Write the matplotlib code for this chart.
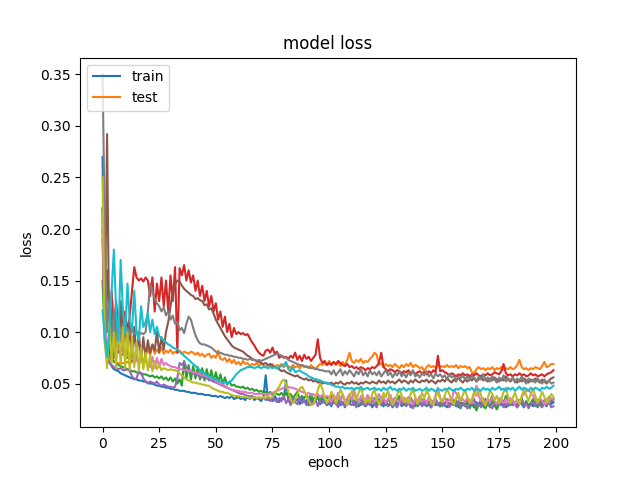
import matplotlib
matplotlib.use('Agg')
import matplotlib.pyplot as plt

# loss curves, one value per epoch (200 epochs)
train = [
    0.27, 0.11, 0.077, 0.071, 0.067, 0.064, 0.063, 0.062, 0.060, 0.059,
    0.058, 0.057, 0.056, 0.055, 0.055, 0.054, 0.053, 0.053, 0.052, 0.052,
    0.051, 0.050, 0.050, 0.049, 0.048, 0.048, 0.047, 0.047, 0.046, 0.046,
    0.045, 0.045, 0.044, 0.044, 0.043, 0.043, 0.043, 0.042, 0.042, 0.041,
    0.041, 0.041, 0.040, 0.040, 0.040, 0.039, 0.039, 0.039, 0.038, 0.038,
    0.038, 0.037, 0.038, 0.037, 0.036, 0.037, 0.036, 0.038, 0.035, 0.036,
    0.037, 0.035, 0.036, 0.034, 0.037, 0.035, 0.038, 0.034, 0.036, 0.035,
    0.033, 0.037, 0.058, 0.034, 0.036, 0.033, 0.038, 0.034, 0.032, 0.036,
    0.035, 0.053, 0.034, 0.031, 0.037, 0.033, 0.035, 0.030, 0.036, 0.032,
    0.034, 0.029, 0.036, 0.031, 0.033, 0.038, 0.030, 0.035, 0.032, 0.029,
    0.031, 0.028, 0.033, 0.030, 0.035, 0.029, 0.032, 0.027, 0.034, 0.030,
    0.037, 0.029, 0.032, 0.028, 0.031, 0.034, 0.028, 0.030, 0.033, 0.027,
    0.032, 0.029, 0.035, 0.030, 0.028, 0.033, 0.029, 0.031, 0.027, 0.032,
    0.030, 0.034, 0.028, 0.031, 0.029, 0.033, 0.027, 0.030, 0.032, 0.028,
    0.031, 0.029, 0.034, 0.028, 0.030, 0.027, 0.033, 0.029, 0.031, 0.028,
    0.032, 0.029, 0.027, 0.031, 0.030, 0.034, 0.028, 0.030, 0.026, 0.031,
    0.029, 0.033, 0.028, 0.030, 0.027, 0.032, 0.029, 0.031, 0.028, 0.035,
    0.030, 0.033, 0.038, 0.031, 0.028, 0.032, 0.029, 0.031, 0.027, 0.030,
    0.033, 0.029, 0.031, 0.028, 0.034, 0.030, 0.027, 0.032, 0.029, 0.031,
    0.028, 0.033, 0.030, 0.036, 0.029, 0.031, 0.028, 0.033, 0.030, 0.032,
]

test = [
    0.22, 0.10, 0.080, 0.075, 0.073, 0.071, 0.070, 0.070, 0.069, 0.070,
    0.070, 0.071, 0.069, 0.072, 0.070, 0.073, 0.071, 0.075, 0.072, 0.078,
    0.085, 0.077, 0.088, 0.079, 0.083, 0.080, 0.085, 0.079, 0.082, 0.080,
    0.083, 0.079, 0.081, 0.080, 0.082, 0.079, 0.081, 0.080, 0.079, 0.081,
    0.080, 0.078, 0.080, 0.077, 0.079, 0.076, 0.078, 0.079, 0.075, 0.077,
    0.075, 0.082, 0.074, 0.073, 0.075, 0.071, 0.074, 0.070, 0.073, 0.069,
    0.071, 0.068, 0.072, 0.069, 0.070, 0.067, 0.069, 0.068, 0.070, 0.067,
    0.069, 0.068, 0.066, 0.068, 0.067, 0.069, 0.066, 0.068, 0.067, 0.069,
    0.066, 0.068, 0.067, 0.065, 0.068, 0.066, 0.067, 0.065, 0.068, 0.066,
    0.067, 0.065, 0.068, 0.066, 0.064, 0.067, 0.069, 0.068, 0.070, 0.068,
    0.072, 0.069, 0.071, 0.068, 0.070, 0.067, 0.071, 0.068, 0.073, 0.080,
    0.072, 0.070, 0.073, 0.071, 0.074, 0.070, 0.072, 0.071, 0.074, 0.076,
    0.080, 0.078, 0.068, 0.070, 0.066, 0.069, 0.067, 0.068, 0.066, 0.069,
    0.067, 0.065, 0.068, 0.066, 0.069, 0.067, 0.070, 0.066, 0.068, 0.067,
    0.065, 0.066, 0.062, 0.066, 0.068, 0.066, 0.067, 0.065, 0.068, 0.066,
    0.067, 0.066, 0.068, 0.066, 0.067, 0.066, 0.068, 0.065, 0.067, 0.066,
    0.067, 0.065, 0.066, 0.061, 0.060, 0.064, 0.066, 0.064, 0.065, 0.063,
    0.065, 0.064, 0.066, 0.063, 0.065, 0.064, 0.066, 0.063, 0.065, 0.064,
    0.066, 0.064, 0.065, 0.068, 0.073, 0.066, 0.064, 0.065, 0.063, 0.065,
    0.064, 0.066, 0.065, 0.064, 0.067, 0.071, 0.066, 0.067, 0.069, 0.069,
]

run3 = [
    0.15, 0.095, 0.082, 0.078, 0.074, 0.072, 0.070, 0.068, 0.067, 0.066,
    0.065, 0.064, 0.063, 0.062, 0.062, 0.061, 0.060, 0.060, 0.059, 0.059,
    0.058, 0.057, 0.058, 0.056, 0.057, 0.055, 0.057, 0.054, 0.056, 0.053,
    0.056, 0.052, 0.055, 0.050, 0.054, 0.048, 0.072, 0.055, 0.068, 0.054,
    0.067, 0.055, 0.066, 0.054, 0.065, 0.053, 0.064, 0.053, 0.063, 0.052,
    0.061, 0.051, 0.059, 0.050, 0.056, 0.049, 0.052, 0.048, 0.049, 0.047,
    0.047, 0.046, 0.047, 0.045, 0.046, 0.044, 0.045, 0.043, 0.044, 0.042,
    0.043, 0.041, 0.042, 0.040, 0.042, 0.039, 0.041, 0.040, 0.039, 0.041,
    0.038, 0.041, 0.037, 0.040, 0.036, 0.039, 0.042, 0.035, 0.038, 0.036,
    0.039, 0.035, 0.040, 0.034, 0.037, 0.036, 0.033, 0.038, 0.035, 0.037,
    0.034, 0.038, 0.032, 0.036, 0.030, 0.035, 0.039, 0.033, 0.031, 0.036,
    0.034, 0.030, 0.037, 0.033, 0.029, 0.035, 0.032, 0.038, 0.031, 0.034,
    0.036, 0.030, 0.033, 0.037, 0.031, 0.029, 0.035, 0.032, 0.030, 0.036,
    0.033, 0.038, 0.031, 0.029, 0.034, 0.030, 0.036, 0.032, 0.028, 0.033,
    0.031, 0.035, 0.029, 0.033, 0.030, 0.027, 0.032, 0.035, 0.030, 0.028,
    0.033, 0.030, 0.035, 0.028, 0.031, 0.029, 0.034, 0.027, 0.032, 0.030,
    0.028, 0.033, 0.026, 0.031, 0.029, 0.024, 0.030, 0.034, 0.028, 0.026,
    0.031, 0.027, 0.033, 0.029, 0.025, 0.030, 0.035, 0.031, 0.038, 0.032,
    0.029, 0.034, 0.030, 0.027, 0.032, 0.036, 0.029, 0.033, 0.028, 0.031,
    0.035, 0.030, 0.027, 0.033, 0.029, 0.034, 0.031, 0.037, 0.032, 0.035,
]

run4 = [
    0.22, 0.105, 0.16, 0.11, 0.14, 0.105, 0.13, 0.10, 0.125, 0.105,
    0.12, 0.10, 0.115, 0.14, 0.163, 0.153, 0.150, 0.152, 0.149, 0.153,
    0.150, 0.135, 0.153, 0.120, 0.147, 0.130, 0.153, 0.125, 0.150, 0.120,
    0.155, 0.130, 0.163, 0.080, 0.162, 0.155, 0.165, 0.150, 0.160, 0.148,
    0.155, 0.140, 0.150, 0.135, 0.145, 0.130, 0.140, 0.125, 0.135, 0.120,
    0.128, 0.112, 0.120, 0.105, 0.115, 0.100, 0.108, 0.095, 0.104, 0.098,
    0.100, 0.098, 0.099, 0.097, 0.098, 0.094, 0.090, 0.087, 0.083, 0.080,
    0.078, 0.077, 0.082, 0.083, 0.080, 0.085, 0.079, 0.081, 0.075, 0.077,
    0.075, 0.076, 0.074, 0.077, 0.075, 0.080, 0.073, 0.077, 0.072, 0.078,
    0.074, 0.076, 0.072, 0.075, 0.078, 0.093, 0.075, 0.070, 0.072, 0.068,
    0.070, 0.068, 0.071, 0.069, 0.072, 0.070, 0.068, 0.067, 0.069, 0.066,
    0.067, 0.065, 0.066, 0.064, 0.066, 0.065, 0.063, 0.065, 0.064, 0.066,
    0.065, 0.067, 0.070, 0.080, 0.066, 0.064, 0.062, 0.064, 0.063, 0.061,
    0.063, 0.062, 0.060, 0.062, 0.061, 0.063, 0.060, 0.062, 0.059, 0.061,
    0.062, 0.060, 0.061, 0.059, 0.062, 0.060, 0.063, 0.061, 0.077, 0.062,
    0.063, 0.061, 0.060, 0.058, 0.060, 0.059, 0.057, 0.059, 0.058, 0.060,
    0.058, 0.059, 0.057, 0.059, 0.058, 0.060, 0.058, 0.057, 0.059, 0.058,
    0.060, 0.058, 0.059, 0.061, 0.060, 0.059, 0.062, 0.069, 0.060, 0.058,
    0.059, 0.057, 0.059, 0.058, 0.060, 0.058, 0.059, 0.057, 0.058, 0.060,
    0.058, 0.059, 0.057, 0.058, 0.059, 0.057, 0.059, 0.060, 0.061, 0.063,
]

run5 = [
    0.19, 0.09, 0.075, 0.070, 0.068, 0.066, 0.065, 0.064, 0.065, 0.063,
    0.063, 0.064, 0.062, 0.057, 0.054, 0.055, 0.062, 0.060, 0.055, 0.052,
    0.050, 0.052, 0.051, 0.050, 0.052, 0.049, 0.048, 0.049, 0.048, 0.047,
    0.047, 0.046, 0.047, 0.055, 0.070, 0.068, 0.071, 0.066, 0.063, 0.062,
    0.060, 0.059, 0.058, 0.057, 0.056, 0.056, 0.055, 0.054, 0.053, 0.052,
    0.051, 0.050, 0.049, 0.048, 0.047, 0.046, 0.045, 0.044, 0.043, 0.042,
    0.041, 0.040, 0.040, 0.039, 0.038, 0.038, 0.037, 0.037, 0.036, 0.036,
    0.035, 0.037, 0.034, 0.036, 0.033, 0.037, 0.034, 0.032, 0.036, 0.033,
    0.038, 0.031, 0.035, 0.029, 0.036, 0.032, 0.030, 0.037, 0.031, 0.034,
    0.029, 0.036, 0.032, 0.030, 0.035, 0.028, 0.033, 0.031, 0.036, 0.030,
    0.033, 0.029, 0.036, 0.031, 0.027, 0.034, 0.030, 0.028, 0.035, 0.031,
    0.029, 0.033, 0.027, 0.031, 0.036, 0.030, 0.028, 0.032, 0.029, 0.034,
    0.030, 0.027, 0.033, 0.029, 0.035, 0.031, 0.028, 0.030, 0.034, 0.029,
    0.027, 0.032, 0.030, 0.036, 0.028, 0.031, 0.029, 0.026, 0.033, 0.030,
    0.034, 0.028, 0.031, 0.029, 0.033, 0.027, 0.030, 0.035, 0.029, 0.032,
    0.028, 0.031, 0.034, 0.027, 0.030, 0.032, 0.029, 0.033, 0.027, 0.031,
    0.029, 0.026, 0.032, 0.030, 0.035, 0.028, 0.031, 0.027, 0.033, 0.029,
    0.031, 0.028, 0.026, 0.032, 0.029, 0.034, 0.030, 0.027, 0.031, 0.028,
    0.033, 0.029, 0.031, 0.027, 0.030, 0.034, 0.028, 0.031, 0.026, 0.030,
    0.032, 0.028, 0.034, 0.029, 0.027, 0.031, 0.029, 0.033, 0.027, 0.028,
]

run6 = [
    0.20, 0.10, 0.292, 0.080, 0.125, 0.075, 0.120, 0.080, 0.130, 0.078,
    0.115, 0.075, 0.110, 0.072, 0.105, 0.075, 0.100, 0.072, 0.095, 0.075,
    0.092, 0.080, 0.088, 0.082, 0.100, 0.080, 0.095, 0.083, 0.100, 0.110,
    0.125, 0.140, 0.146, 0.150, 0.149, 0.145, 0.142, 0.140, 0.138, 0.136,
    0.135, 0.132, 0.133, 0.131, 0.130, 0.126, 0.127, 0.122, 0.123, 0.118,
    0.112, 0.108, 0.104, 0.100, 0.096, 0.093, 0.090, 0.087, 0.085, 0.084,
    0.083, 0.082, 0.081, 0.079, 0.077, 0.076, 0.074, 0.073, 0.072, 0.071,
    0.070, 0.069, 0.070, 0.068, 0.069, 0.067, 0.066, 0.065, 0.064, 0.062,
    0.063, 0.061, 0.060, 0.059, 0.058, 0.057, 0.058, 0.056, 0.055, 0.054,
    0.055, 0.053, 0.054, 0.052, 0.053, 0.051, 0.052, 0.050, 0.051, 0.050,
    0.050, 0.051, 0.049, 0.051, 0.050, 0.052, 0.050, 0.049, 0.051, 0.050,
    0.052, 0.050, 0.051, 0.049, 0.051, 0.050, 0.052, 0.051, 0.050, 0.052,
    0.051, 0.050, 0.053, 0.051, 0.052, 0.050, 0.053, 0.051, 0.052, 0.050,
    0.052, 0.054, 0.051, 0.053, 0.052, 0.050, 0.053, 0.051, 0.054, 0.052,
    0.051, 0.053, 0.052, 0.054, 0.051, 0.053, 0.052, 0.050, 0.053, 0.052,
    0.054, 0.052, 0.055, 0.053, 0.051, 0.054, 0.052, 0.056, 0.053, 0.051,
    0.054, 0.052, 0.055, 0.053, 0.056, 0.052, 0.054, 0.057, 0.053, 0.055,
    0.052, 0.055, 0.053, 0.056, 0.054, 0.052, 0.055, 0.053, 0.057, 0.054,
    0.052, 0.055, 0.053, 0.051, 0.054, 0.052, 0.055, 0.053, 0.051, 0.054,
    0.052, 0.055, 0.053, 0.051, 0.054, 0.052, 0.050, 0.053, 0.055, 0.056,
]

run7 = [
    0.21, 0.10, 0.092, 0.090, 0.088, 0.087, 0.085, 0.084, 0.082, 0.080,
    0.079, 0.077, 0.075, 0.074, 0.073, 0.072, 0.071, 0.072, 0.070, 0.071,
    0.070, 0.066, 0.076, 0.065, 0.075, 0.066, 0.074, 0.068, 0.070, 0.068,
    0.067, 0.066, 0.066, 0.065, 0.064, 0.064, 0.063, 0.063, 0.062, 0.062,
    0.061, 0.061, 0.060, 0.059, 0.058, 0.058, 0.057, 0.056, 0.055, 0.055,
    0.052, 0.051, 0.050, 0.049, 0.048, 0.046, 0.045, 0.044, 0.044, 0.043,
    0.043, 0.042, 0.042, 0.042, 0.041, 0.041, 0.041, 0.040, 0.040, 0.040,
    0.040, 0.040, 0.039, 0.040, 0.040, 0.041, 0.042, 0.043, 0.044, 0.045,
    0.046, 0.046, 0.047, 0.046, 0.046, 0.045, 0.044, 0.043, 0.042, 0.041,
    0.040, 0.041, 0.039, 0.040, 0.038, 0.040, 0.037, 0.039, 0.036, 0.038,
    0.037, 0.033, 0.039, 0.035, 0.041, 0.034, 0.038, 0.032, 0.036, 0.040,
    0.034, 0.044, 0.036, 0.031, 0.038, 0.035, 0.033, 0.039, 0.034, 0.037,
    0.032, 0.036, 0.040, 0.033, 0.037, 0.031, 0.035, 0.039, 0.033, 0.036,
    0.034, 0.031, 0.038, 0.035, 0.032, 0.037, 0.034, 0.030, 0.036, 0.033,
    0.038, 0.032, 0.035, 0.031, 0.037, 0.034, 0.032, 0.039, 0.046, 0.036,
    0.033, 0.037, 0.031, 0.035, 0.032, 0.044, 0.041, 0.036, 0.033, 0.035,
    0.032, 0.036, 0.034, 0.031, 0.040, 0.048, 0.038, 0.033, 0.036, 0.031,
    0.035, 0.032, 0.037, 0.033, 0.030, 0.036, 0.034, 0.031, 0.035, 0.032,
    0.036, 0.033, 0.030, 0.035, 0.032, 0.037, 0.040, 0.043, 0.044, 0.041,
    0.038, 0.034, 0.031, 0.036, 0.033, 0.030, 0.035, 0.032, 0.036, 0.034,
]

run8 = [
    0.35, 0.20, 0.10, 0.13, 0.088, 0.12, 0.085, 0.115, 0.090, 0.108,
    0.095, 0.104, 0.097, 0.102, 0.098, 0.100, 0.097, 0.099, 0.098, 0.100,
    0.120, 0.147, 0.140, 0.132, 0.128, 0.125, 0.120, 0.124, 0.116, 0.120,
    0.112, 0.116, 0.108, 0.110, 0.102, 0.104, 0.099, 0.108, 0.115, 0.112,
    0.104, 0.097, 0.092, 0.089, 0.088, 0.088, 0.087, 0.086, 0.085, 0.083,
    0.081, 0.080, 0.080, 0.079, 0.078, 0.078, 0.077, 0.077, 0.076, 0.076,
    0.075, 0.075, 0.074, 0.074, 0.073, 0.074, 0.073, 0.073, 0.072, 0.073,
    0.072, 0.073, 0.074, 0.075, 0.076, 0.077, 0.078, 0.079, 0.078, 0.077,
    0.076, 0.075, 0.073, 0.072, 0.071, 0.070, 0.069, 0.068, 0.068, 0.067,
    0.066, 0.066, 0.065, 0.065, 0.064, 0.064, 0.063, 0.063, 0.062, 0.062,
    0.062, 0.059, 0.063, 0.058, 0.061, 0.064, 0.058, 0.062, 0.059, 0.063,
    0.060, 0.057, 0.062, 0.059, 0.064, 0.058, 0.061, 0.057, 0.063, 0.059,
    0.061, 0.058, 0.062, 0.057, 0.060, 0.063, 0.058, 0.061, 0.056, 0.060,
    0.058, 0.062, 0.057, 0.060, 0.056, 0.061, 0.058, 0.063, 0.057, 0.059,
    0.056, 0.060, 0.058, 0.062, 0.057, 0.059, 0.055, 0.060, 0.057, 0.059,
    0.056, 0.058, 0.054, 0.059, 0.056, 0.058, 0.053, 0.057, 0.055, 0.058,
    0.054, 0.057, 0.053, 0.058, 0.055, 0.052, 0.057, 0.054, 0.059, 0.053,
    0.056, 0.052, 0.057, 0.054, 0.051, 0.056, 0.053, 0.058, 0.052, 0.055,
    0.053, 0.056, 0.051, 0.055, 0.052, 0.057, 0.053, 0.050, 0.055, 0.052,
    0.054, 0.051, 0.055, 0.052, 0.050, 0.054, 0.051, 0.053, 0.050, 0.051,
]

run9 = [
    0.25, 0.09, 0.065, 0.110, 0.070, 0.100, 0.065, 0.110, 0.068, 0.105,
    0.065, 0.100, 0.063, 0.095, 0.066, 0.090, 0.062, 0.085, 0.064, 0.080,
    0.063, 0.078, 0.062, 0.072, 0.064, 0.068, 0.063, 0.065, 0.064, 0.063,
    0.064, 0.063, 0.063, 0.062, 0.060, 0.058, 0.056, 0.054, 0.053, 0.052,
    0.051, 0.051, 0.050, 0.050, 0.049, 0.049, 0.048, 0.048, 0.046, 0.045,
    0.044, 0.043, 0.042, 0.042, 0.041, 0.041, 0.040, 0.039, 0.038, 0.038,
    0.038, 0.037, 0.037, 0.037, 0.037, 0.036, 0.036, 0.037, 0.036, 0.037,
    0.036, 0.037, 0.036, 0.038, 0.036, 0.037, 0.040, 0.044, 0.047, 0.052,
    0.054, 0.050, 0.042, 0.035, 0.031, 0.034, 0.040, 0.045, 0.047, 0.043,
    0.038, 0.033, 0.029, 0.030, 0.036, 0.044, 0.050, 0.045, 0.036, 0.031,
    0.035, 0.042, 0.038, 0.031, 0.036, 0.044, 0.040, 0.033, 0.029, 0.037,
    0.043, 0.039, 0.034, 0.041, 0.046, 0.038, 0.031, 0.035, 0.032, 0.040,
    0.044, 0.036, 0.030, 0.034, 0.041, 0.037, 0.043, 0.035, 0.029, 0.033,
    0.039, 0.045, 0.038, 0.032, 0.036, 0.031, 0.040, 0.044, 0.037, 0.030,
    0.034, 0.041, 0.036, 0.043, 0.039, 0.031, 0.029, 0.037, 0.042, 0.035,
    0.032, 0.038, 0.045, 0.040, 0.034, 0.030, 0.036, 0.041, 0.033, 0.039,
    0.044, 0.037, 0.031, 0.035, 0.042, 0.038, 0.045, 0.039, 0.032, 0.029,
    0.036, 0.043, 0.040, 0.034, 0.038, 0.031, 0.035, 0.042, 0.046, 0.037,
    0.031, 0.036, 0.041, 0.035, 0.030, 0.038, 0.044, 0.039, 0.033, 0.040,
    0.045, 0.038, 0.032, 0.036, 0.042, 0.037, 0.031, 0.035, 0.040, 0.037,
]

run10 = [
    0.121, 0.095, 0.076, 0.100, 0.140, 0.180, 0.120, 0.092, 0.170, 0.120,
    0.099, 0.147, 0.110, 0.102, 0.140, 0.100, 0.092, 0.125, 0.105, 0.110,
    0.118, 0.100, 0.112, 0.098, 0.105, 0.096, 0.094, 0.092, 0.090, 0.088,
    0.087, 0.085, 0.084, 0.083, 0.081, 0.079, 0.077, 0.075, 0.073, 0.071,
    0.069, 0.067, 0.065, 0.063, 0.061, 0.060, 0.058, 0.057, 0.056, 0.055,
    0.054, 0.053, 0.052, 0.051, 0.051, 0.050, 0.051, 0.053, 0.056, 0.059,
    0.061, 0.063, 0.064, 0.065, 0.066, 0.066, 0.066, 0.065, 0.066, 0.066,
    0.065, 0.066, 0.066, 0.065, 0.066, 0.065, 0.066, 0.065, 0.066, 0.067,
    0.068, 0.071, 0.064, 0.062, 0.066, 0.061, 0.062, 0.063, 0.061, 0.060,
    0.059, 0.057, 0.056, 0.055, 0.054, 0.054, 0.053, 0.052, 0.051, 0.051,
    0.050, 0.049, 0.048, 0.047, 0.047, 0.046, 0.047, 0.045, 0.046, 0.045,
    0.046, 0.044, 0.046, 0.045, 0.047, 0.044, 0.045, 0.046, 0.044, 0.045,
    0.046, 0.044, 0.045, 0.043, 0.046, 0.044, 0.045, 0.047, 0.044, 0.045,
    0.043, 0.045, 0.044, 0.046, 0.043, 0.045, 0.044, 0.046, 0.043, 0.044,
    0.045, 0.043, 0.044, 0.046, 0.043, 0.045, 0.044, 0.042, 0.045, 0.044,
    0.043, 0.045, 0.044, 0.046, 0.044, 0.043, 0.045, 0.044, 0.046, 0.044,
    0.043, 0.045, 0.044, 0.046, 0.043, 0.045, 0.044, 0.043, 0.046, 0.044,
    0.045, 0.043, 0.046, 0.044, 0.045, 0.047, 0.044, 0.045, 0.043, 0.046,
    0.044, 0.046, 0.043, 0.045, 0.047, 0.044, 0.046, 0.045, 0.043, 0.046,
    0.044, 0.046, 0.045, 0.043, 0.046, 0.045, 0.047, 0.045, 0.046, 0.048,
]

histories = [train, test, run3, run4, run5, run6, run7, run8, run9, run10]

fig = plt.figure(figsize=(6.4, 4.8), dpi=100)
for h in histories:
    plt.plot(h)

plt.title('model loss')
plt.ylabel('loss')
plt.xlabel('epoch')
plt.legend(['train', 'test'], loc='upper left')
plt.savefig('out.png')
